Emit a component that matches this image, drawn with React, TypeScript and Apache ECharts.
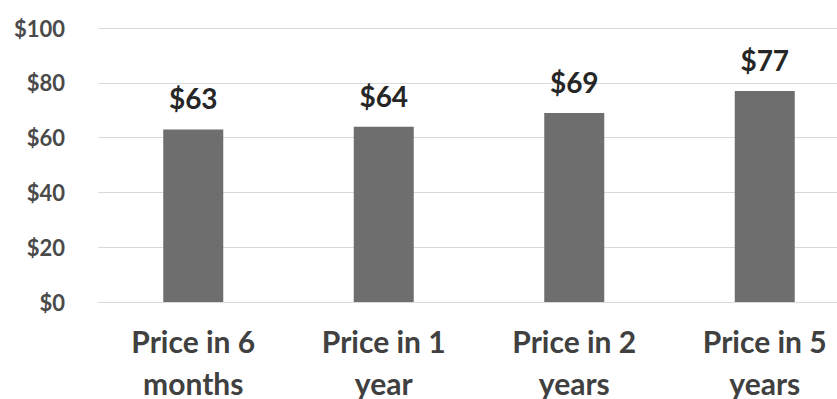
import React, { useEffect, useRef } from "react";
import * as echarts from "echarts";

const categories = ["Price in 6\nmonths", "Price in 1\nyear", "Price in 2\nyears", "Price in 5\nyears"];
const prices = [63, 64, 69, 77];
const yTicks = { min: 0, max: 100, interval: 20 };

export default function App() {
  const ref = useRef<HTMLDivElement>(null);
  useEffect(() => {
    if (!ref.current) return;
    const chart = echarts.init(ref.current, null, { renderer: "svg" });
    chart.setOption({
      animation: false,
      textStyle: { fontFamily: "Lato" },
      grid: { left: 98, top: 28, width: 762, height: 274, containLabel: false, outerBoundsMode: "none" },
      xAxis: {
        type: "category",
        data: categories,
        axisLine: { show: true, lineStyle: { color: "#d9d9d9", width: 1 } },
        axisTick: { show: false },
        axisLabel: {
          interval: 0,
          margin: 18,
          fontSize: 30,
          fontWeight: "bold",
          color: "#404040",
          lineHeight: 42,
          fontFamily: "Lato",
        },
      },
      yAxis: {
        type: "value",
        min: yTicks.min,
        max: yTicks.max,
        interval: yTicks.interval,
        axisLine: { show: false },
        axisTick: { show: false },
        splitLine: { lineStyle: { color: "#d9d9d9", width: 1 } },
        axisLabel: {
          margin: 33,
          fontSize: 22,
          fontWeight: "bold",
          color: "#4a4a4a",
          fontFamily: "Lato",
          formatter: (v: number) => "$" + v,
        },
      },
      series: [
        {
          type: "bar",
          data: prices,
          barWidth: 60,
          itemStyle: { color: "#6e6e6e" },
          label: {
            show: true,
            position: "top",
            distance: 17,
            fontSize: 28,
            fontWeight: "bold",
            color: "#262626",
            fontFamily: "Lato",
            formatter: (p: any) => "$" + p.value,
          },
        },
      ],
    });
    return () => chart.dispose();
  }, []);
  return (
    <div style={{ position: "absolute", left: 0, top: 0, width: 837, height: 399, overflow: "hidden", background: "#fff" }}>
      <div ref={ref} style={{ width: 900, height: 399 }} />
    </div>
  );
}
